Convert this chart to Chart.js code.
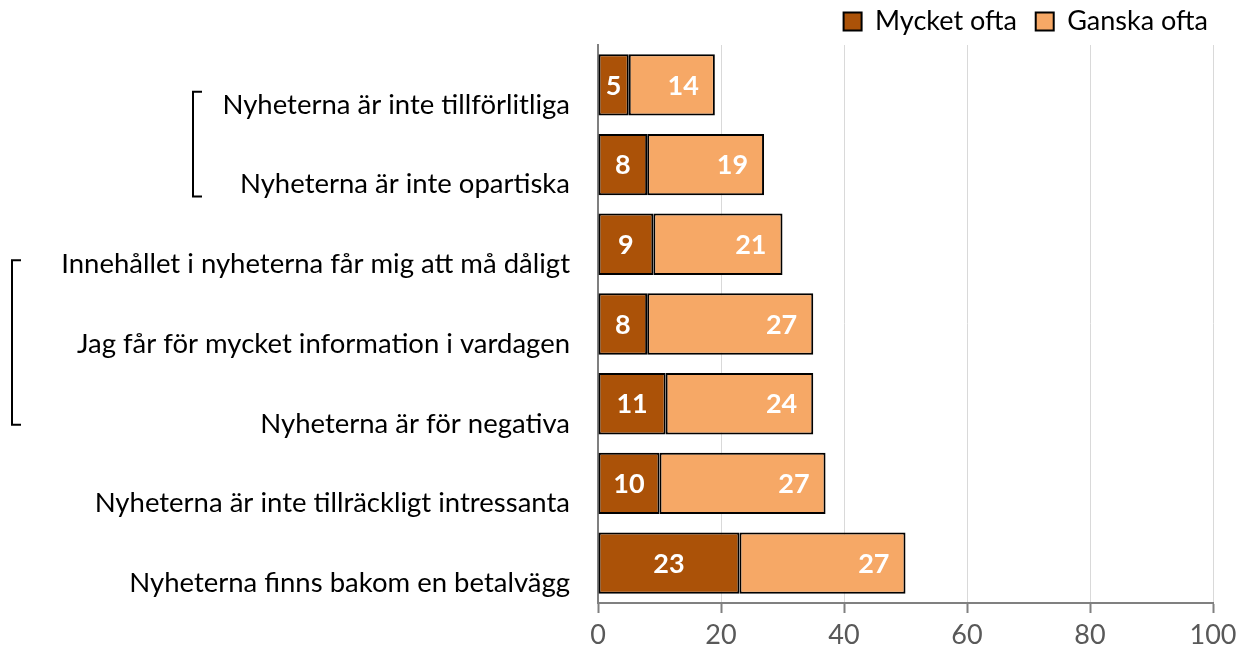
<!DOCTYPE html>
<html>
<head>
<meta charset="utf-8">
<script src="https://cdn.jsdelivr.net/npm/chart.js@4.4.0/dist/chart.umd.min.js"></script>
<style>
    html, body { margin: 0; padding: 0; background: #fff; }
    #wrap { width: 1237px; height: 650px; }
</style>
</head>
<body>
<div id="wrap"><canvas id="newsChart"></canvas></div>
<script>
const categories = [
    "Nyheterna är inte tillförlitliga",
    "Nyheterna är inte opartiska",
    "Innehållet i nyheterna får mig att må dåligt",
    "Jag får för mycket information i vardagen",
    "Nyheterna är för negativa",
    "Nyheterna är inte tillräckligt intressanta",
    "Nyheterna finns bakom en betalvägg"
];
const mycketOfta = [5, 8, 9, 8, 11, 10, 23];
const ganskaOfta = [14, 19, 21, 27, 24, 27, 27];
const xTicks = [0, 20, 40, 60, 80, 100];

const FONT = "Lato, 'Open Sans', sans-serif";

// white numbers inside the bars
const barLabels = {
    id: "barLabels",
    afterDatasetsDraw(chart) {
        const ctx = chart.ctx;
        ctx.save();
        ctx.font = `bold 27px ${FONT}`;
        ctx.fillStyle = "#ffffff";
        ctx.textBaseline = "middle";
        chart.data.datasets.forEach((ds, di) => {
            chart.getDatasetMeta(di).data.forEach((bar, i) => {
                const v = ds.data[i];
                if (di === 0) {
                    ctx.textAlign = "center";
                    ctx.fillText(v, (bar.base + bar.x) / 2, bar.y + 1);
                } else {
                    ctx.textAlign = "right";
                    ctx.fillText(v, bar.x - 16, bar.y + 1);
                }
            });
        });
        ctx.restore();
    }
};

// brackets grouping the category labels
const brackets = {
    id: "brackets",
    afterDraw(chart) {
        const y = chart.scales.y;
        const ctx = chart.ctx;
        const groups = [
            { x: 193, from: 0, to: 1, top: 7, bottom: 32 },
            { x: 12, from: 2, to: 4, top: 16, bottom: 21 }
        ];
        ctx.save();
        ctx.strokeStyle = "#000";
        ctx.lineWidth = 2;
        groups.forEach(g => {
            const y1 = y.getPixelForValue(g.from) + g.top;
            const y2 = y.getPixelForValue(g.to) + g.bottom;
            ctx.beginPath();
            ctx.moveTo(g.x + 9, y1);
            ctx.lineTo(g.x, y1);
            ctx.lineTo(g.x, y2);
            ctx.lineTo(g.x + 9, y2);
            ctx.stroke();
        });
        ctx.restore();
    }
};

new Chart(document.getElementById("newsChart"), {
    type: "bar",
    data: {
        labels: categories.map(c => ["", c]),
        datasets: [
            {
                label: "Mycket ofta",
                data: mycketOfta,
                backgroundColor: "#AB5208",
                borderColor: "#000",
                borderWidth: 2,
                borderSkipped: false,
                categoryPercentage: 1,
                barPercentage: 0.77
            },
            {
                label: "Ganska ofta",
                data: ganskaOfta,
                backgroundColor: "#F6A866",
                borderColor: "#000",
                borderWidth: 2,
                borderSkipped: false,
                categoryPercentage: 1,
                barPercentage: 0.77
            }
        ]
    },
    options: {
        indexAxis: "y",
        responsive: true,
        maintainAspectRatio: false,
        animation: false,
        layout: { padding: { top: 3, right: 24, bottom: 0, left: 0 } },
        plugins: {
            legend: {
                position: "top",
                align: "end",
                labels: {
                    font: { family: FONT, size: 27 },
                    color: "#000",
                    boxWidth: 18,
                    boxHeight: 18,
                    padding: 5,
                    useBorderRadius: false,
                    generateLabels: (chart) => Chart.defaults.plugins.legend.labels.generateLabels(chart)
                        .map((item, i) => i === 0 ? { ...item, text: item.text + "  " } : item)
                }
            },
            tooltip: { enabled: false }
        },
        scales: {
            x: {
                stacked: true,
                min: 0,
                max: 100,
                afterBuildTicks: (scale) => { scale.ticks = xTicks.map(v => ({ value: v })); },
                afterFit: (scale) => {
                    scale.height = 47;
                    scale.paddingRight = 0;
                },
                grid: { color: "#d9d9d9", lineWidth: 1, tickColor: "#808080", tickLength: 10, tickWidth: 2 },
                border: { color: "#808080", width: 2 },
                ticks: { font: { family: FONT, size: 27 }, color: "#595959", padding: 6 }
            },
            y: {
                stacked: true,
                afterFit: (scale) => {
                    scale.width = 598;
                    scale.paddingTop = 0;
                    scale.paddingBottom = 0;
                },
                grid: { display: false, drawTicks: false },
                border: { color: "#808080", width: 2 },
                ticks: {
                    autoSkip: false,
                    font: { family: FONT, size: 27.5, lineHeight: 1.45 },
                    color: "#000",
                    padding: 28
                }
            }
        }
    },
    plugins: [barLabels, brackets]
});
</script>
</body>
</html>
